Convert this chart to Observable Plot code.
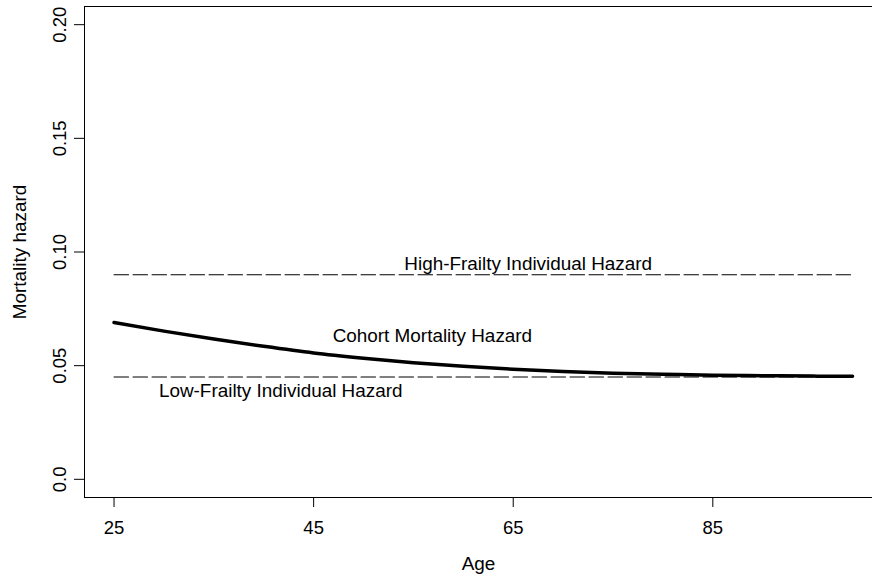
<!DOCTYPE html>
<html>
<head>
<meta charset="utf-8">
<script src="https://cdn.jsdelivr.net/npm/d3@7"></script>
<script src="https://cdn.jsdelivr.net/npm/@observablehq/plot@0.6"></script>
<style>
  html, body { margin: 0; padding: 0; background: #fff; }
  #chart svg { display: block; font-family: "Liberation Sans", Arial, Helvetica, sans-serif; }
</style>
</head>
<body>
<div id="chart"></div>
<script>
// ---- data ----
const ages = [25, 30, 35, 40, 45, 50, 55, 60, 65, 70, 75, 80, 85, 90, 95, 99];
const cohortHazard = [0.0690, 0.0652, 0.0617, 0.0585, 0.0556, 0.0533, 0.0513, 0.0497, 0.0484, 0.0474, 0.0467, 0.0462, 0.0458, 0.0456, 0.0454, 0.0453];
const ageRange = [25, 99];
const highFrailty = 0.09;
const lowFrailty = 0.045;

const labelText = ["High-Frailty Individual Hazard", "Cohort Mortality Hazard", "Low-Frailty Individual Hazard"];
const labelAge = [66.5, 56.9, 41.7];
const labelHazard = [0.0946, 0.0629, 0.0387];

const xTicks = [25, 45, 65, 85];
const yTicks = [0, 0.05, 0.10, 0.15, 0.20];
const yTickLabels = ["0.0", "0.05", "0.10", "0.15", "0.20"];

// ---- tables for the marks ----
const cohort = ages.map((a, i) => ({age: a, h: cohortHazard[i]}));
const high = ageRange.map(a => ({age: a, h: highFrailty}));
const low = ageRange.map(a => ({age: a, h: lowFrailty}));
const labels = labelText.map((t, i) => ({t, age: labelAge[i], h: labelHazard[i]}));

const FS = 18.9;
const TFS = 18.5;

const chart = Plot.plot({
  width: 872,
  height: 576,
  marginLeft: 84,
  marginRight: 0,
  marginTop: 6,
  marginBottom: 79,
  style: {fontFamily: '"Liberation Sans", Arial, Helvetica, sans-serif', fontSize: FS + "px", color: "#000", background: "#fff"},
  x: {domain: [22.04, 101.0], axis: null},
  y: {domain: [-0.008, 0.208], axis: null},
  marks: [
    Plot.frame({anchor: "left", stroke: "#000"}),
    Plot.frame({anchor: "top", stroke: "#000"}),
    Plot.frame({anchor: "bottom", stroke: "#000"}),
    Plot.axisX({ticks: xTicks, tickSize: 10, tickPadding: 13, fontSize: TFS, label: null, stroke: "#000"}),
    Plot.axisY({ticks: yTicks, tickFormat: (d, i) => yTickLabels[i], tickSize: 10, tickPadding: 9, tickRotate: -90, fontSize: TFS, label: null, stroke: "#000"}),
    Plot.line(high, {x: "age", y: "h", stroke: "#000", strokeWidth: 1.1, strokeDasharray: "14.5,4.5"}),
    Plot.line(low, {x: "age", y: "h", stroke: "#000", strokeWidth: 1.1, strokeDasharray: "14.5,4.5"}),
    Plot.line(cohort, {x: "age", y: "h", stroke: "#000", strokeWidth: 3.5, curve: "monotone-x"}),
    Plot.text(labels, {x: "age", y: "h", text: "t", fontSize: FS, fill: "#000"}),
    Plot.text(["Age"], {frameAnchor: "bottom", dy: 66, lineAnchor: "middle", textAnchor: "middle", fontSize: FS, fill: "#000"}),
    Plot.text(["Mortality hazard"], {frameAnchor: "left", dx: -65, rotate: -90, textAnchor: "middle", lineAnchor: "middle", fontSize: FS, fill: "#000"})
  ]
});
document.getElementById("chart").appendChild(chart);
</script>
</body>
</html>
